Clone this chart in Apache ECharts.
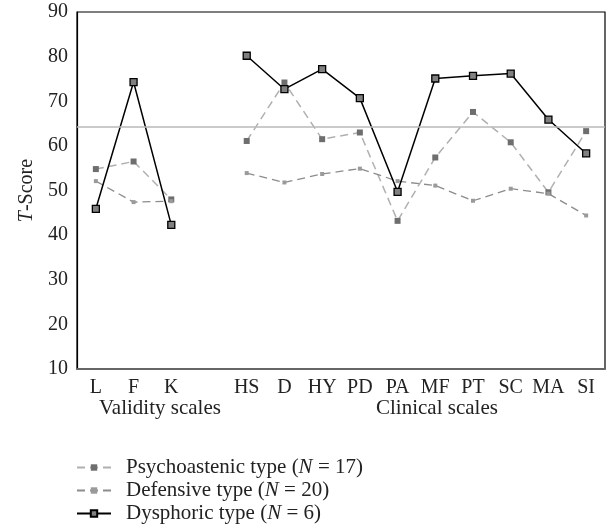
<!DOCTYPE html>
<html>
<head>
<meta charset="utf-8">
<script src="https://cdn.jsdelivr.net/npm/echarts@6/dist/echarts.min.js"></script>
<style>
html,body{margin:0;padding:0;background:#fff;}
#c{width:608px;height:531px;}
</style>
</head>
<body>
<div id="c"></div>
<script>
const categories = ['L','F','K','','HS','D','HY','PD','PA','MF','PT','SC','MA','SI'];
const psychoastenic = [54.8,56.5,48.0,null,61.1,74.2,61.5,63.0,43.2,57.4,67.6,60.8,49.6,63.3];
const defensive = [52.1,47.4,47.6,null,53.9,51.8,53.7,54.9,52.1,51.1,47.7,50.4,49.3,44.4];
const dysphoric = [45.9,74.3,42.3,null,80.2,72.7,77.2,70.7,49.7,75.1,75.7,76.2,65.9,58.3];
const referenceLine = 64.3;
const yTicks = [10,20,30,40,50,60,70,80,90];
const seriesNames = ['Psychoastenic type','Defensive type','Dysphoric type'];
const seriesN = [17,20,6];
const groupLabels = ['Validity scales','Clinical scales'];

const FONT = 'Liberation Serif';
const chart = echarts.init(document.getElementById('c'));
const option = {
  animation:false,
  backgroundColor:'#fff',
  textStyle:{fontFamily:FONT,color:'#222'},
  grid:{left:77,top:12,right:3,bottom:162,show:true,borderColor:'#000',borderWidth:1.2,containLabel:false},
  legend:{
    orient:'vertical',left:76,top:457,padding:0,itemWidth:34,itemHeight:8,itemGap:2,
    data:seriesNames,
    textStyle:{fontFamily:FONT,fontSize:21,color:'#222',lineHeight:21,
      rich:{a:{fontFamily:FONT,fontSize:21,lineHeight:21,color:'#222'},
            p:{fontFamily:FONT,fontSize:21,lineHeight:21,color:'#222',padding:[0,0,0,10]},
            i:{fontFamily:FONT,fontSize:21,lineHeight:21,fontStyle:'italic',color:'#222'}}},
    formatter:function(name){const k=seriesNames.indexOf(name);return '{p|'+name+' (}{i|N}{a| = '+seriesN[k]+')}';}
  },
  xAxis:{type:'category',data:categories,boundaryGap:true,
    axisLine:{lineStyle:{color:'#666',width:2}},axisTick:{show:false},
    axisLabel:{fontFamily:FONT,fontSize:20,color:'#222',margin:9,interval:0}},
  yAxis:{type:'value',min:yTicks[0],max:yTicks[yTicks.length-1],interval:10,
    axisLine:{show:true,lineStyle:{color:'#000',width:1.2}},axisTick:{show:false},splitLine:{show:false},
    axisLabel:{fontFamily:FONT,fontSize:20,color:'#222',margin:9},
    name:'{i|T}{a|-Score}',nameLocation:'middle',nameGap:40,nameRotate:90,
    nameTextStyle:{rich:{a:{fontFamily:FONT,fontSize:20,color:'#222'},i:{fontFamily:FONT,fontSize:20,fontStyle:'italic',color:'#222'}}}},
  graphic:[
    {type:'text',left:99,top:398,style:{text:groupLabels[0],font:'21px "Liberation Serif"',fill:'#222'}},
    {type:'text',left:376,top:398,style:{text:groupLabels[1],font:'21px "Liberation Serif"',fill:'#222'}}
  ],
  series:[
    {name:seriesNames[0],type:'line',data:psychoastenic,connectNulls:false,
      symbol:'rect',symbolSize:6,
      lineStyle:{color:'#b0b0b0',width:1.5,type:[8,5]},
      itemStyle:{color:'#6e6e6e',borderWidth:0},
      markLine:{silent:true,symbol:'none',label:{show:false},
        lineStyle:{color:'#b8b8b8',width:1.6,type:'solid'},data:[{yAxis:referenceLine}]}},
    {name:seriesNames[1],type:'line',data:defensive,connectNulls:false,
      symbol:'rect',symbolSize:4,
      lineStyle:{color:'#8c8c8c',width:1.3,type:[8,5]},
      itemStyle:{color:'#9a9a9a',borderWidth:0}},
    {name:seriesNames[2],type:'line',data:dysphoric,connectNulls:false,
      symbol:'rect',symbolSize:7,
      lineStyle:{color:'#000',width:1.5},
      itemStyle:{color:'#808080',borderColor:'#000',borderWidth:1.3}}
  ]
};
chart.setOption(option);
</script>
</body>
</html>
